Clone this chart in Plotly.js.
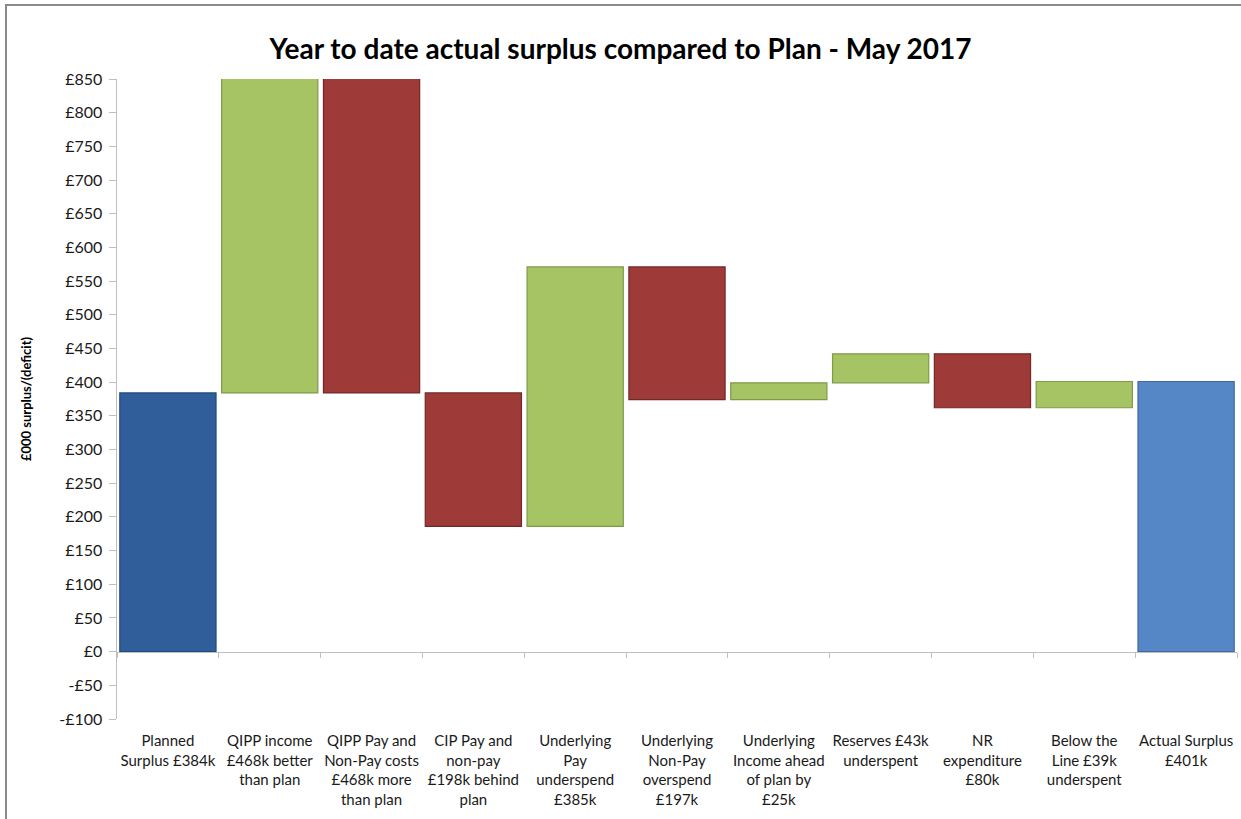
<!DOCTYPE html>
<html>
<head>
<meta charset="utf-8">
<script src="https://cdn.plot.ly/plotly-3.0.1.min.js"></script>
<style>
  html, body { margin: 0; padding: 0; background: #fff; }
  #wrap { position: relative; width: 1241px; height: 819px; overflow: hidden; }
  #chart { position: absolute; left: 0; top: 0; width: 1241px; height: 819px; }
  #frame { position: absolute; left: 5px; top: 4px; width: 1300px; height: 900px;
           border-left: 2px solid #8a8a8a; border-top: 2px solid #8a8a8a; pointer-events: none; }
</style>
</head>
<body>
<div id="wrap">
  <div id="chart"></div>
  <div id="frame"></div>
</div>
<script>
// ---- Data ----
const categories = [
  "Planned<br>Surplus £384k",
  "QIPP income<br>£468k better<br>than plan",
  "QIPP Pay and<br>Non-Pay costs<br>£468k more<br>than plan",
  "CIP Pay and<br>non-pay<br>£198k behind<br>plan",
  "Underlying<br>Pay<br>underspend<br>£385k",
  "Underlying<br>Non-Pay<br>overspend<br>£197k",
  "Underlying<br>Income ahead<br>of plan by<br>£25k",
  "Reserves £43k<br>underspent",
  "NR<br>expenditure<br>£80k",
  "Below the<br>Line £39k<br>underspent",
  "Actual Surplus<br>£401k"
];
// movement of each step (£000); first and last are totals
const changes = [384, 468, -468, -198, 385, -197, 25, 43, -80, 39, 401];
const kinds = ["planned", "up", "down", "down", "up", "down", "up", "up", "down", "up", "actual"];
const yTickValues = [-100, -50, 0, 50, 100, 150, 200, 250, 300, 350, 400, 450, 500, 550, 600, 650, 700, 750, 800, 850];
const yTickLabels = ["-£100", "-£50", "£0", "£50", "£100", "£150", "£200", "£250", "£300", "£350", "£400", "£450", "£500", "£550", "£600", "£650", "£700", "£750", "£800", "£850"];

// ---- Styling ----
const fillColors = { planned: "#2F5E9B", up: "#A6C463", down: "#9E3A38", actual: "#5586C6" };
const edgeColors = { planned: "#234A7C", up: "#7F9B48", down: "#722826", actual: "#41699F" };

// ---- Build bases/sizes from running total ----
const bases = [], sizes = [];
let running = 0;
changes.forEach((c, i) => {
  if (kinds[i] === "planned" || kinds[i] === "actual") {
    bases.push(0); sizes.push(c); running = c;
  } else {
    bases.push(running); sizes.push(c); running += c;
  }
});

const trace = {
  type: "bar",
  x: categories,
  y: sizes,
  base: bases,
  marker: {
    color: kinds.map(k => fillColors[k]),
    line: { color: kinds.map(k => edgeColors[k]), width: 1.2 }
  },
  hoverinfo: "none",
  showlegend: false
};

const yMin = -100, yMax = 850;

const layout = {
  width: 1241, height: 819,
  margin: { l: 117, r: 4, t: 79, b: 100 },
  paper_bgcolor: "#ffffff",
  plot_bgcolor: "#ffffff",
  bargap: 0.055,
  font: { family: "Lato, 'Open Sans', sans-serif", size: 14, color: "#1a1a1a" },
  title: {
    text: "<b>Year to date actual surplus compared to Plan - May 2017</b>",
    font: { family: "Lato, 'Open Sans', sans-serif", size: 28, color: "#000" },
    x: 0.5, xanchor: "center", y: 0.94, yanchor: "middle"
  },
  xaxis: {
    type: "category",
    categoryarray: categories,
    anchor: "free",
    position: (0 - yMin) / (yMax - yMin),
    showline: true, linecolor: "#BFBFBF", linewidth: 1.5,
    ticks: "outside", tickson: "boundaries", ticklen: 5, tickcolor: "#BFBFBF", tickwidth: 1,
    tickangle: 0,
    ticklabelstandoff: 75,
    tickfont: { size: 15, color: "#1a1a1a" },
    showgrid: false, zeroline: false,
    fixedrange: true
  },
  yaxis: {
    range: [yMin, yMax],
    tickmode: "array", tickvals: yTickValues, ticktext: yTickLabels,
    showline: true, linecolor: "#BFBFBF", linewidth: 1.5,
    ticks: "outside", ticklen: 7, tickcolor: "#BFBFBF",
    ticklabelstandoff: 3,
    tickfont: { size: 16, color: "#1a1a1a" },
    showgrid: false, zeroline: false,
    title: { text: "<b>£000 surplus/(deficit)</b>", font: { size: 13, color: "#000" }, standoff: 24 },
    fixedrange: true
  }
};

Plotly.newPlot("chart", [trace], layout, { displayModeBar: false, staticPlot: true });
</script>
</body>
</html>
